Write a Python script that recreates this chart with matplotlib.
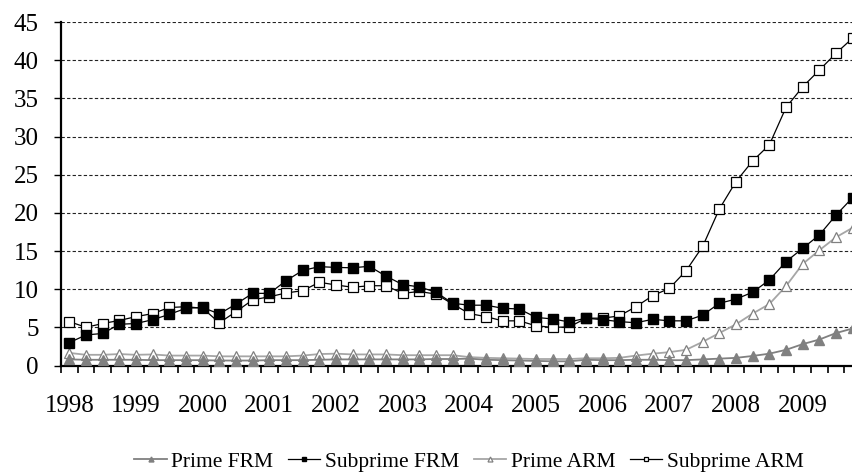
import matplotlib.pyplot as plt
import numpy as np

plt.rcParams['font.family'] = ['Liberation Serif', 'DejaVu Serif']

# Quarterly data, 1998Q1 - 2009Q4
years = [str(y) for y in range(1998, 2010)]
prime_frm = [0.8, 0.75, 0.75, 0.75, 0.75, 0.7, 0.7, 0.7, 0.7, 0.65,
             0.65, 0.65, 0.7, 0.7, 0.7, 0.75, 0.8, 0.8, 0.8, 0.8,
             0.8, 0.8, 0.85, 0.85, 0.9, 0.75, 0.7, 0.65, 0.6, 0.55,
             0.55, 0.75, 0.7, 0.7, 0.75, 0.75, 0.7, 0.7, 0.8, 0.9,
             1.0, 1.25, 1.55, 2.05, 2.8, 3.4, 4.25, 4.85]
subprime_frm = [3.0, 4.0, 4.2, 5.4, 5.5, 6.0, 6.7, 7.5, 7.6, 6.75,
                8.05, 9.45, 9.45, 11.1, 12.45, 12.95, 12.85, 12.8, 13.0, 11.7,
                10.6, 10.3, 9.6, 8.15, 7.9, 7.9, 7.5, 7.4, 6.3, 6.1,
                5.7, 6.2, 6.0, 5.75, 5.6, 6.05, 5.85, 5.85, 6.6, 8.15,
                8.7, 9.6, 11.2, 13.6, 15.35, 17.1, 19.7, 22.0]
prime_arm = [1.65, 1.4, 1.4, 1.5, 1.4, 1.45, 1.3, 1.3, 1.3, 1.2,
             1.2, 1.2, 1.2, 1.2, 1.3, 1.5, 1.55, 1.45, 1.45, 1.45,
             1.35, 1.35, 1.35, 1.35, 1.1, 1.0, 0.95, 0.9, 0.85, 0.85,
             0.85, 0.95, 0.95, 1.0, 1.3, 1.55, 1.75, 2.05, 3.1, 4.25,
             5.4, 6.8, 8.05, 10.4, 13.3, 15.1, 16.8, 18.05]
subprime_arm = [5.75, 5.0, 5.5, 5.9, 6.4, 6.8, 7.6, 7.7, 7.5, 5.6,
                7.05, 8.6, 9.0, 9.5, 9.8, 10.9, 10.55, 10.25, 10.45, 10.45,
                9.45, 9.7, 9.35, 8.05, 6.8, 6.4, 5.85, 5.85, 5.2, 5.0,
                5.05, 6.2, 6.2, 6.5, 7.7, 9.15, 10.1, 12.4, 15.6, 20.5,
                24.1, 26.8, 28.9, 33.8, 36.5, 38.7, 40.9, 42.9]

x = np.arange(len(prime_frm))

W, H = 853, 473
fig = plt.figure(figsize=(W / 100, H / 100), dpi=100)
# axes is a bit wider than the figure: the right edge is cut off like in the source
ax = fig.add_axes([61 / W, 1 - 365.5 / H, 800 / W, 343.5 / H])

gray = '#808080'
lgray = '#a6a6a6'
ms = 6.5

l1, = ax.plot(x, prime_frm, color=gray, lw=1.3, marker='^', ms=ms,
              mfc=gray, mec=gray, zorder=6, label='Prime FRM')
l2, = ax.plot(x, subprime_frm, color='black', lw=0.9, marker='s', ms=ms,
              mfc='black', mec='black', zorder=5, label='Subprime FRM')
l3, = ax.plot(x, prime_arm, color=lgray, lw=1.3, marker='^', ms=ms,
              mfc='white', mec=gray, mew=0.9, zorder=4, label='Prime ARM')
l4, = ax.plot(x, subprime_arm, color='black', lw=0.9, marker='s', ms=ms,
              mfc='white', mec='black', mew=0.9, zorder=3, label='Subprime ARM')

ax.set_xlim(-0.5, 47.5)
ax.set_ylim(0, 45)
ax.set_yticks(np.arange(0, 46, 5))
ax.yaxis.grid(True, color='#222222', lw=0.8, linestyle=(0, (3, 2)))
ax.set_axisbelow(True)

ax.set_xticks(np.arange(0, 48, 4))
ax.set_xticklabels(years)
ax.set_xticks(np.arange(-0.5, 48, 1), minor=True)
ax.tick_params(axis='x', which='major', length=0, pad=21.5, labelsize=18)
ax.tick_params(axis='x', which='minor', length=5, width=1.2, direction='out')
ax.tick_params(axis='y', length=5, width=1, pad=11, labelsize=18)

for s in ['top', 'right']:
    ax.spines[s].set_visible(False)
ax.spines['left'].set_linewidth(1.6)
ax.spines['bottom'].set_linewidth(1.6)

fig.legend(handles=[l1, l2, l3, l4], loc='center', ncol=4, frameon=False,
           bbox_to_anchor=(469 / W, 1 - 462 / H), fontsize=15.5,
           handlelength=1.5, handletextpad=0.2, columnspacing=0.7,
           markerscale=0.55)

fig.savefig('out.png', dpi=100)
